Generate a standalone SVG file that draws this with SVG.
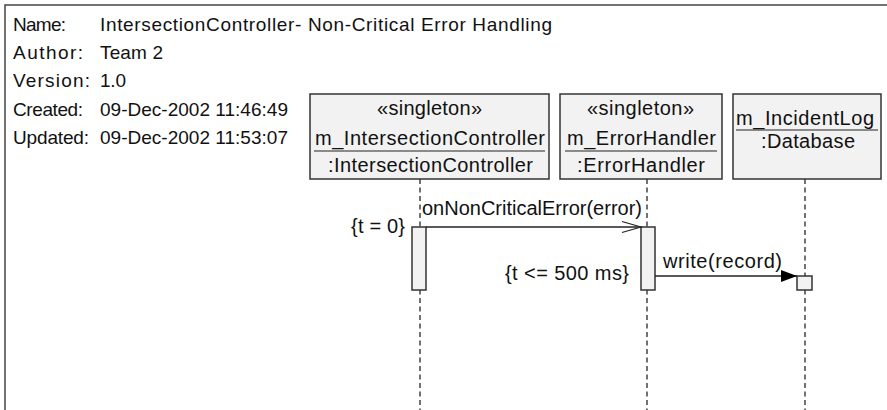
<svg xmlns="http://www.w3.org/2000/svg" width="887" height="410" viewBox="0 0 887 410">
<style>
text{font-family:"Liberation Sans",Arial,sans-serif;font-size:20px;fill:#111}
.h{font-size:19px}
.m{text-anchor:middle}
.e{text-anchor:end}
.box{fill:#f2f2f2;stroke:#333;stroke-width:1.5}
.act{fill:#f2f2f2;stroke:#333;stroke-width:1.5}
.life{stroke:#444;stroke-width:1.5;stroke-dasharray:5,3.5;fill:none}
.ul{stroke:#222;stroke-width:1.2}
.msg{stroke:#222;stroke-width:1.3;fill:none}
</style>
<defs>
<marker id="open" markerWidth="22" markerHeight="14" refX="20" refY="7" orient="auto" markerUnits="userSpaceOnUse"><path d="M1,1.5 L20,7 L1,12.5" fill="none" stroke="#222" stroke-width="1.3"/></marker>
<marker id="fill" markerWidth="18" markerHeight="14" refX="16" refY="7" orient="auto" markerUnits="userSpaceOnUse"><path d="M0,1 L16,7 L0,13 Z" fill="#000"/></marker>
</defs>
<rect width="887" height="410" fill="#fff"/>
<path d="M5,410 V5 H887" fill="none" stroke="#444" stroke-width="1.5"/>
<g id="header">
<text class="h" x="13" y="31" textLength="53">Name:</text><text class="h" x="100" y="31" textLength="452">IntersectionController- Non-Critical Error Handling</text>
<text class="h" x="13" y="59" textLength="70">Author:</text><text class="h" x="100" y="59" textLength="63">Team 2</text>
<text class="h" x="13" y="87" textLength="77">Version:</text><text class="h" x="100" y="87" textLength="26">1.0</text>
<text class="h" x="13" y="115.5" textLength="70">Created:</text><text class="h" x="100" y="115.5" textLength="188">09-Dec-2002 11:46:49</text>
<text class="h" x="13" y="144" textLength="76">Updated:</text><text class="h" x="100" y="144" textLength="188">09-Dec-2002 11:53:07</text>
</g>
<g id="lifelines">
<line class="life" x1="420" y1="179" x2="420" y2="410"/>
<line class="life" x1="647" y1="179" x2="647" y2="410"/>
<line class="life" x1="805" y1="179" x2="805" y2="410"/>
</g>
<g id="n_ic">
<rect class="box" x="310" y="94" width="239" height="85"/>
<text class="m" x="429.5" y="115" textLength="105">«singleton»</text>
<text class="m" x="430" y="145" textLength="230">m_IntersectionController</text>
<line class="ul" x1="314" y1="151" x2="545" y2="151"/>
<text class="m" x="430.5" y="172" textLength="205">:IntersectionController</text>
<rect class="act" x="412" y="227" width="14" height="63"/>
</g>
<g id="n_eh">
<rect class="box" x="560" y="94" width="162" height="85"/>
<text class="m" x="640.5" y="115" textLength="107">«singleton»</text>
<text class="m" x="641.5" y="145" textLength="149">m_ErrorHandler</text>
<line class="ul" x1="565" y1="151" x2="717" y2="151"/>
<text class="m" x="641" y="172" textLength="128">:ErrorHandler</text>
<rect class="act" x="641" y="227" width="14" height="63"/>
</g>
<g id="n_db">
<rect class="box" x="733" y="94" width="148" height="85"/>
<text class="m" x="805" y="125" textLength="138">m_IncidentLog</text>
<line class="ul" x1="736" y1="130" x2="878" y2="130"/>
<text class="m" x="808" y="148" textLength="94">:Database</text>
<rect class="act" x="797" y="276" width="15" height="14"/>
</g>
<g id="connectors">
<line class="msg" x1="426" y1="227" x2="641" y2="227" marker-end="url(#open)"/>
<text x="422" y="215" textLength="220">onNonCriticalError(error)</text>
<text x="351" y="233" textLength="54">{t = 0}</text>
<line class="msg" x1="655" y1="276" x2="797" y2="276" marker-end="url(#fill)"/>
<text x="663" y="268" textLength="119">write(record)</text>
<text x="505" y="280" textLength="124">{t &lt;= 500 ms}</text>
</g>
</svg>
